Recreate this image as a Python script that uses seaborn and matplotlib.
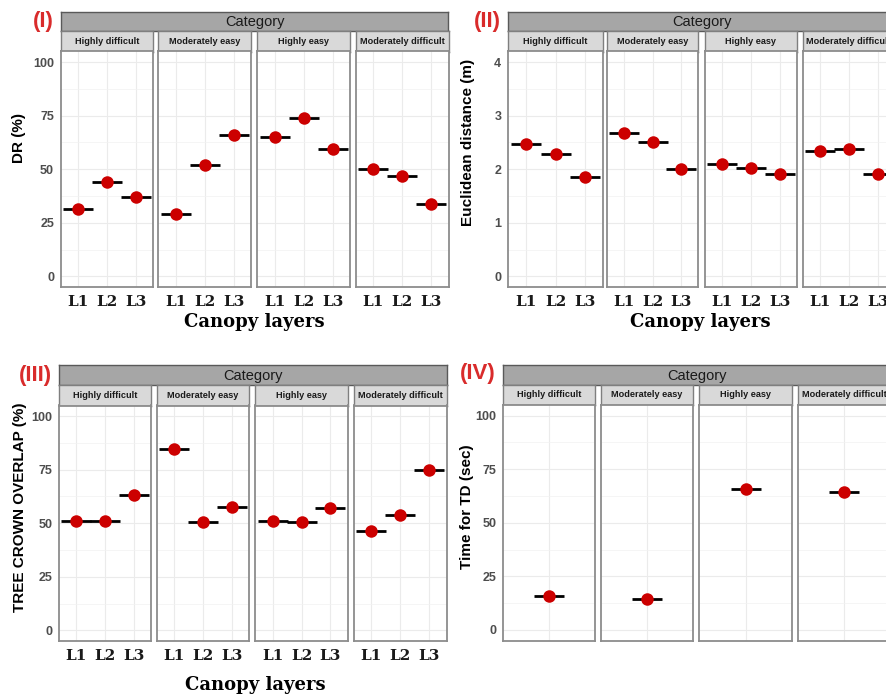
import numpy as np
import pandas as pd
import matplotlib
matplotlib.use("Agg")
import matplotlib.pyplot as plt
import seaborn as sns

# ---------------- data ----------------
categories = ["Highly difficult", "Moderately easy", "Highly easy", "Moderately difficult"]
layers = ["L1", "L2", "L3"]

dr_values = [[31.5, 44.0, 37.0],
             [29.0, 52.0, 66.0],
             [65.0, 74.0, 59.5],
             [50.0, 47.0, 34.0]]

euclid_values = [[2.47, 2.28, 1.86],
                 [2.67, 2.50, 2.00],
                 [2.10, 2.02, 1.92],
                 [2.34, 2.37, 1.92]]

overlap_values = [[51.0, 51.0, 63.0],
                  [84.5, 50.5, 57.5],
                  [51.0, 50.5, 57.0],
                  [46.5, 54.0, 75.0]]

time_values = [16.0, 14.5, 66.0, 64.5]

dr_ticks = [0, 25, 50, 75, 100]
euclid_ticks = [0, 1, 2, 3, 4]
overlap_ticks = [0, 25, 50, 75, 100]
time_ticks = [0, 25, 50, 75, 100]

# ---------------- style ----------------
sns.set_theme(style="white")
plt.rcParams["font.family"] = ["Liberation Sans", "DejaVu Sans"]

W, H = 886, 695
fig = plt.figure(figsize=(W / 100, H / 100), dpi=100)

RED = "#CC0000"
SERIF = ["DejaVu Serif"]


def px_axes(x0, y0, x1, y1):
    return fig.add_axes([x0 / W, 1 - y1 / H, (x1 - x0) / W, (y1 - y0) / H])


def draw_panel(df_list, xcats, ylim, ticks, layout, ylabel, show_x):
    facets = layout["facets"]
    ytop_cat, ybot_cat = layout["cat_strip"]
    strip_bottom = layout["strip_bottom"]
    plot_bottom = layout["plot_bottom"]

    # "Category" strip
    cax = px_axes(facets[0][0], ytop_cat, facets[-1][1], ybot_cat)
    cax.set_facecolor("#A6A6A6")
    cax.set_xticks([]); cax.set_yticks([])
    for s in cax.spines.values():
        s.set_color("#595959"); s.set_linewidth(1.0)
    cax.text(0.5, 0.45, "Category", ha="center", va="center", fontsize=10.5,
             color="#1A1A1A", transform=cax.transAxes)

    major = np.array(ticks, dtype=float)
    step = major[1] - major[0]
    minor = major[:-1] + step / 2

    for i, (x0, x1) in enumerate(facets):
        sax = px_axes(x0, ybot_cat, x1, strip_bottom)
        sax.set_facecolor("#D9D9D9")
        sax.set_xticks([]); sax.set_yticks([])
        for s in sax.spines.values():
            s.set_color("#7F7F7F"); s.set_linewidth(1.0)
        sax.text(0.5, 0.5, categories[i], ha="center", va="center", fontsize=6.6,
                 fontweight="bold", color="#1A1A1A", transform=sax.transAxes)

        ax = px_axes(x0, strip_bottom, x1, plot_bottom)
        df = df_list[i]
        sns.pointplot(data=df, x="layer", y="value", order=xcats, ax=ax,
                      errorbar=None, color="black", marker="_",
                      linestyle="none", markersize=22, markeredgewidth=2.0)
        sns.pointplot(data=df, x="layer", y="value", order=xcats, ax=ax,
                      errorbar=None, color=RED, marker="o",
                      linestyle="none", markersize=9, markeredgewidth=0)
        n = len(xcats)
        ax.set_xlim(-0.6, n - 0.4)
        ax.set_ylim(*ylim)
        ax.set_yticks(major)
        ax.set_yticks(minor, minor=True)
        ax.set_facecolor("white")
        ax.grid(True, which="major", color="#EBEBEB", linewidth=0.8)
        ax.grid(True, which="minor", axis="y", color="#F2F2F2", linewidth=0.5)
        ax.xaxis.grid(True, which="major", color="#EBEBEB", linewidth=0.8)
        ax.set_axisbelow(True)
        for s in ax.spines.values():
            s.set_color("#8C8C8C"); s.set_linewidth(1.3)
        ax.set_xlabel(""); ax.set_ylabel("")
        ax.tick_params(which="minor", length=0)
        if show_x:
            ax.tick_params(axis="x", length=3, width=0.8, color="#555555", pad=3)
            ax.set_xticks(range(n))
            ax.set_xticklabels(xcats, fontsize=11, fontweight="bold",
                               family=SERIF, color="#1A1A1A")
        else:
            ax.tick_params(axis="x", length=0, labelbottom=False)
        if i == 0:
            ax.tick_params(axis="y", length=3, width=0.8, color="#555555", pad=2,
                           labelsize=9, labelcolor="#4D4D4D")
            ticklabels = [f"{v:g}" for v in ticks]
            ax.set_yticklabels(ticklabels, fontweight="bold")
        else:
            ax.tick_params(axis="y", length=0, labelleft=False)

    # panel label, y title, x title
    lx, ly = layout["label_xy"]
    fig.text(lx / W, 1 - ly / H, layout["label"], ha="center", va="center",
             fontsize=16, fontweight="bold", color="#D92B2B")
    yx, yy = layout["ylabel_xy"]
    fig.text(yx / W, 1 - yy / H, ylabel, ha="center", va="center", rotation=90,
             fontsize=11, fontweight="bold", color="black")
    if layout.get("xlabel_xy") is not None:
        xx, xy = layout["xlabel_xy"]
        fig.text(xx / W, 1 - xy / H, "Canopy layers", ha="center", va="center",
                 fontsize=13, fontweight="bold", family=SERIF, color="black")


def make_frames(values, xcats):
    frames = []
    for row in values:
        row = row if isinstance(row, list) else [row]
        frames.append(pd.DataFrame({"layer": xcats, "value": row}))
    return frames


layout_I = dict(label="(I)", label_xy=(43, 21), cat_strip=(11.5, 31), strip_bottom=51.5,
                plot_bottom=287, facets=[(61, 152.7), (158.3, 251), (257.3, 350), (356, 448.5)],
                ylabel_xy=(19, 138), xlabel_xy=(254, 322))
layout_II = dict(label="(II)", label_xy=(487, 21), cat_strip=(11.5, 31), strip_bottom=51.5,
                 plot_bottom=287, facets=[(508.3, 602.7), (606.7, 698.3), (705, 796.7), (802.7, 895)],
                 ylabel_xy=(468, 142), xlabel_xy=(700, 322))
layout_III = dict(label="(III)", label_xy=(35, 375), cat_strip=(365, 385), strip_bottom=405.5,
                  plot_bottom=641, facets=[(59.3, 150.7), (157, 249.3), (255.3, 347.7), (354, 446.7)],
                  ylabel_xy=(20, 507), xlabel_xy=(255, 685))
layout_IV = dict(label="(IV)", label_xy=(478, 374), cat_strip=(364.5, 384.5), strip_bottom=405,
                 plot_bottom=640.7, facets=[(503.3, 595.3), (601, 693.3), (699.3, 792.3), (798, 890)],
                 ylabel_xy=(467, 507), xlabel_xy=None)

draw_panel(make_frames(dr_values, layers), layers, (-5, 105), dr_ticks, layout_I,
           "DR (%)", True)
draw_panel(make_frames(euclid_values, layers), layers, (-0.2, 4.2), euclid_ticks, layout_II,
           "Euclidean distance (m)", True)
draw_panel(make_frames(overlap_values, layers), layers, (-5, 105), overlap_ticks, layout_III,
           "TREE CROWN OVERLAP (%)", True)
draw_panel(make_frames(time_values, ["All"]), ["All"], (-5, 105), time_ticks, layout_IV,
           "Time for TD (sec)", False)

fig.savefig("out.png", dpi=100, facecolor="white")
